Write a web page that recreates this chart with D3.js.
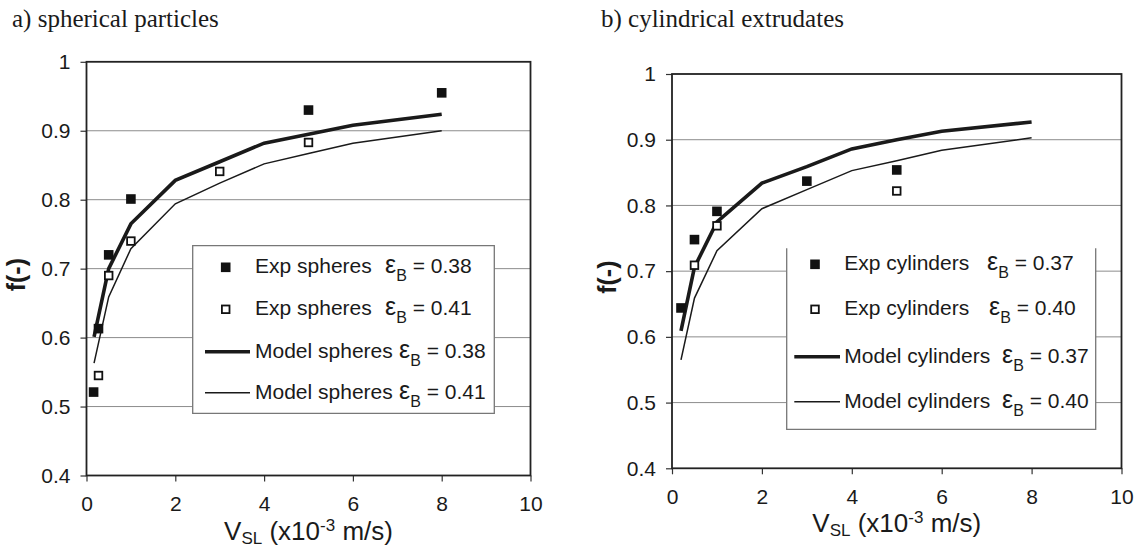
<!DOCTYPE html>
<html>
<head>
<meta charset="utf-8">
<script src="https://cdn.jsdelivr.net/npm/d3@7"></script>
<style>
  body { margin: 0; background: #fff; }
  svg { display: block; }
  text { font-family: Arial, "Liberation Sans", sans-serif; fill: #1a1a1a; }
</style>
</head>
<body>
<div id="canvas"></div>
<script>
const xTicks = [0, 2, 4, 6, 8, 10]
const yTicks = [0.4, 0.5, 0.6, 0.7, 0.8, 0.9, 1]
const gridTicks = [0.5, 0.6, 0.7, 0.8, 0.9]

// a) spherical particles
const sphExpX1 = [0.16, 0.27, 0.5, 1, 5, 8]
const sphExpY1 = [0.521, 0.613, 0.72, 0.801, 0.93, 0.955]
const sphExpX2 = [0.27, 0.5, 1, 3, 5]
const sphExpY2 = [0.545, 0.69, 0.74, 0.841, 0.883]
const sphModelX = [0.17, 0.5, 1, 2, 3, 4, 5, 6, 8]
const sphModelY1 = [0.601, 0.70, 0.765, 0.828, 0.855, 0.882, 0.895, 0.908, 0.924]
const sphModelY2 = [0.563, 0.659, 0.729, 0.794, 0.824, 0.852, 0.867, 0.882, 0.900]
const sphNames = ['Exp spheres', 'Exp spheres', 'Model spheres', 'Model spheres']
const sphEps = ['0.38', '0.41', '0.38', '0.41']

// b) cylindrical extrudates
const cylExpX1 = [0.2, 0.5, 1, 3, 5]
const cylExpY1 = [0.644, 0.748, 0.791, 0.837, 0.854]
const cylExpX2 = [0.5, 1, 5]
const cylExpY2 = [0.709, 0.769, 0.822]
const cylModelX = [0.2, 0.5, 1, 2, 3, 4, 5, 6, 8]
const cylModelY1 = [0.609, 0.706, 0.775, 0.834, 0.859, 0.886, 0.900, 0.913, 0.927]
const cylModelY2 = [0.565, 0.659, 0.731, 0.795, 0.824, 0.853, 0.868, 0.884, 0.903]
const cylNames = ['Exp cylinders', 'Exp cylinders', 'Model cylinders', 'Model cylinders']
const cylEps = ['0.37', '0.40', '0.37', '0.40']

const width = 1139
const height = 547

const svg = d3.select('#canvas')
  .append('svg')
    .attr('width', width)
    .attr('height', height)

const zip = (xs, ys) => xs.map((v, i) => ({ x: v, y: ys[i] }))

function drawPanel(p) {
  const x = d3.scaleLinear().domain([0, 10]).range([p.left, p.right])
  const y = d3.scaleLinear().domain([0.4, 1]).range([p.bottom, p.top])
  const g = svg.append('g')

  g.append('text')
    .attr('x', p.titleX).attr('y', 27)
    .style('font-family', '"Liberation Serif", "Times New Roman", serif')
    .style('font-size', '25px')
    .text(p.title)

  // grid
  g.append('g').selectAll('line')
    .data(gridTicks)
    .join('line')
      .attr('x1', p.left).attr('x2', p.right)
      .attr('y1', d => y(d)).attr('y2', d => y(d))
      .attr('stroke', '#8c8c8c').attr('stroke-width', 1)

  // axes
  const xAxis = g.append('g')
    .attr('transform', `translate(0, ${p.bottom})`)
    .call(d3.axisBottom(x).tickValues(xTicks).tickSize(6).tickPadding(15).tickFormat(d3.format('d')))
  const yAxis = g.append('g')
    .attr('transform', `translate(${p.left}, 0)`)
    .call(d3.axisLeft(y).tickValues(yTicks).tickSize(6).tickPadding(10).tickFormat(d => d === 1 ? '1' : d3.format('.1f')(d)))
  for (const a of [xAxis, yAxis]) {
    a.select('.domain').remove()
    a.selectAll('line').attr('stroke', '#333').attr('stroke-width', 1.2)
    a.selectAll('text')
      .attr('fill', '#1a1a1a')
      .style('font-family', 'Arial, "Liberation Sans", sans-serif')
      .style('font-size', '21px')
  }

  g.append('rect')
    .attr('x', p.left).attr('y', p.top)
    .attr('width', p.right - p.left).attr('height', p.bottom - p.top)
    .attr('fill', 'none').attr('stroke', '#222').attr('stroke-width', 1.8)

  const line = d3.line().x(d => x(d.x)).y(d => y(d.y))

  g.append('path')
    .datum(zip(p.modelX, p.modelY2))
    .attr('d', line).attr('fill', 'none')
    .attr('stroke', '#1a1a1a').attr('stroke-width', 1.5)
  g.append('path')
    .datum(zip(p.modelX, p.modelY1))
    .attr('d', line).attr('fill', 'none')
    .attr('stroke', '#1a1a1a').attr('stroke-width', 3.6)

  g.append('g').selectAll('rect')
    .data(zip(p.expX2, p.expY2))
    .join('rect')
      .attr('x', d => x(d.x) - 3.8).attr('y', d => y(d.y) - 3.8)
      .attr('width', 7.6).attr('height', 7.6)
      .attr('fill', '#fff').attr('stroke', '#111').attr('stroke-width', 1.8)
  g.append('g').selectAll('rect')
    .data(zip(p.expX1, p.expY1))
    .join('rect')
      .attr('x', d => x(d.x) - 4.8).attr('y', d => y(d.y) - 4.8)
      .attr('width', 9.6).attr('height', 9.6)
      .attr('fill', '#111')

  // legend
  const L = p.legend
  const lg = g.append('g')
  lg.append('rect')
    .attr('x', L.x0).attr('y', L.y0)
    .attr('width', L.x1 - L.x0).attr('height', L.y1 - L.y0)
    .attr('fill', '#fff')
  lg.append('path')
    .attr('d', L.topBorder
      ? `M${L.x0},${L.y0}H${L.x1}V${L.y1}H${L.x0}Z`
      : `M${L.x0},${L.y0}V${L.y1}H${L.x1}V${L.y0}`)
    .attr('fill', 'none').attr('stroke', '#777').attr('stroke-width', 1.3)

  p.names.forEach((name, i) => {
    const cy = L.rows[i]
    if (i === 0) {
      lg.append('rect').attr('x', L.markerX - 4.8).attr('y', cy - 4.8)
        .attr('width', 9.6).attr('height', 9.6).attr('fill', '#111')
    } else if (i === 1) {
      lg.append('rect').attr('x', L.markerX - 3.8).attr('y', cy - 3.8)
        .attr('width', 7.6).attr('height', 7.6)
        .attr('fill', '#fff').attr('stroke', '#111').attr('stroke-width', 1.8)
    } else {
      lg.append('line')
        .attr('x1', L.lineX0).attr('x2', L.lineX1)
        .attr('y1', cy).attr('y2', cy)
        .attr('stroke', '#1a1a1a').attr('stroke-width', i === 2 ? 3.6 : 1.5)
    }
    const t = lg.append('text')
      .attr('x', L.textX).attr('y', cy + 6)
      .style('font-size', '21px')
    t.append('tspan').text(name)
    t.append('tspan').attr('x', L.epsX[i]).style('font-size', '25px').text('ε')
    t.append('tspan').attr('dy', 8).style('font-size', '16px').text('B')
    t.append('tspan').attr('dy', -8).text(' = ' + p.eps[i])
  })

  // axis titles
  const xt = g.append('text')
    .attr('x', (p.left + p.right) / 2).attr('y', p.bottom + 64)
    .attr('text-anchor', 'middle')
    .style('font-size', '26px')
  xt.append('tspan').text('V')
  xt.append('tspan').attr('dy', 4).style('font-size', '17px').text('SL')
  xt.append('tspan').attr('dy', -4).text(' (x10')
  xt.append('tspan').attr('dy', -9).style('font-size', '17px').text('-3')
  xt.append('tspan').attr('dy', 9).text(' m/s)')

  g.append('text')
    .attr('transform', `translate(${p.ylabelX}, ${(p.top + p.bottom) / 2 + 6}) rotate(-90)`)
    .attr('text-anchor', 'middle')
    .style('font-size', '25px')
    .style('font-weight', 'bold')
    .text('f(-)')
}

drawPanel({
  title: 'a) spherical particles', titleX: 12,
  left: 86.5, right: 530.5, top: 61.8, bottom: 475.5, ylabelX: 25,
  expX1: sphExpX1, expY1: sphExpY1, expX2: sphExpX2, expY2: sphExpY2,
  modelX: sphModelX, modelY1: sphModelY1, modelY2: sphModelY2,
  names: sphNames, eps: sphEps,
  legend: {
    x0: 192.7, x1: 494.3, y0: 245.7, y1: 413.3, topBorder: true,
    markerX: 225.7, textX: 255, lineX0: 205, lineX1: 250,
    rows: [267.3, 309.3, 351.7, 392.7],
    epsX: [385, 385, 399, 399]
  }
})

drawPanel({
  title: 'b) cylindrical extrudates', titleX: 601,
  left: 672, right: 1121.5, top: 74, bottom: 468.3, ylabelX: 616,
  expX1: cylExpX1, expY1: cylExpY1, expX2: cylExpX2, expY2: cylExpY2,
  modelX: cylModelX, modelY1: cylModelY1, modelY2: cylModelY2,
  names: cylNames, eps: cylEps,
  legend: {
    x0: 786.7, x1: 1095.7, y0: 248.3, y1: 429.3, topBorder: false,
    markerX: 815, textX: 844.3, lineX0: 794.3, lineX1: 840,
    rows: [264.3, 309.3, 356.7, 401.7],
    epsX: [987, 989, 1002, 1002]
  }
})
</script>
</body>
</html>
